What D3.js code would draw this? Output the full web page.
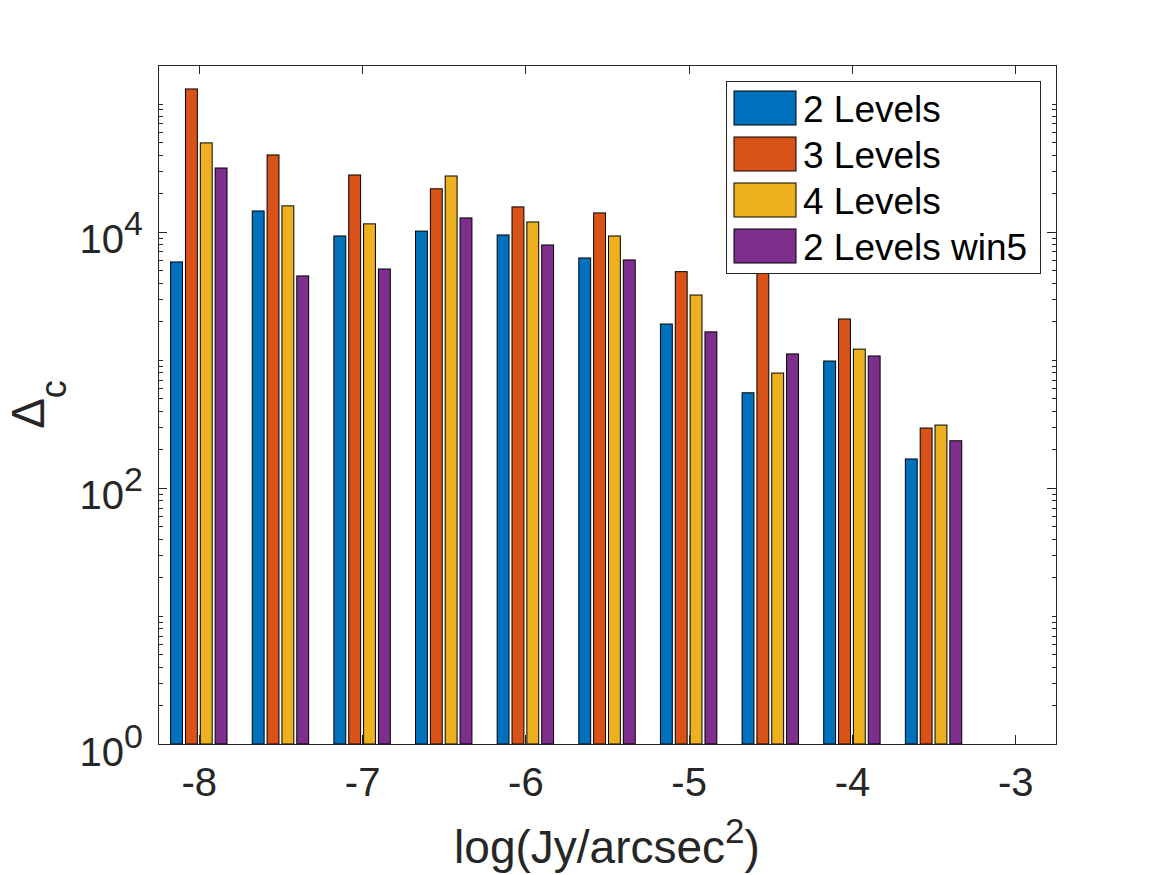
<!DOCTYPE html>
<html>
<head>
<meta charset="utf-8">
<style>
  body { margin: 0; background: #fff; }
  svg { font-family: Helvetica, Arial, "Liberation Sans", sans-serif; }
  .tick-label { font-size: 40px; fill: #262626; }
  .axis-label { font-size: 46px; fill: #262626; }
  .legend-text { font-size: 37px; fill: #000; }
</style>
</head>
<body>
<div id="chart"></div>
<script src="https://d3js.org/d3.v7.min.js"></script>
<script>
  // Bin centres, log(Jy/arcsec^2)
  const categories = [-8, -7.5, -7, -6.5, -6, -5.5, -5, -4.5, -4, -3.5];
  const seriesNames = ['2 Levels', '3 Levels', '4 Levels', '2 Levels win5'];
  const levels2 = [5800, 14500, 9250, 10100, 9420, 6230, 1900, 552, 977, 168];
  const levels3 = [130000, 39700, 27700, 21600, 15600, 14000, 4870, 6500, 2080, 293];
  const levels4 = [49300, 15900, 11500, 27200, 11900, 9250, 3200, 787, 1210, 309];
  const levels2win5 = [31400, 4510, 5110, 12800, 7870, 6010, 1650, 1110, 1070, 233];
  const xTicks = [-8, -7, -6, -5, -4, -3];
  const yTicks = [1, 100, 10000];

  const colors = ['#0072BD', '#D95319', '#EDB120', '#7E2F8E'];
  const seriesValues = [levels2, levels3, levels4, levels2win5];

  const width = 1167;
  const height = 875;
  const margin = { top: 65, right: 111, bottom: 131, left: 158 };

  const svg = d3.select('#chart')
    .append('svg')
    .attr('width', width)
    .attr('height', height);

  const xScale = d3.scaleLinear()
    .domain([-8.25, -2.75])
    .range([margin.left, width - margin.right]);

  const yScale = d3.scaleLog()
    .domain([1, 2e5])
    .range([height - margin.bottom, margin.top]);

  // matlab style grouped bars
  const nSeries = seriesValues.length;
  const spacing = 0.5;
  const groupWidth = Math.min(0.8, nSeries / (nSeries + 1.5)) * spacing;
  const slot = groupWidth / nSeries;
  const barW = slot * 0.8;

  seriesValues.forEach((vals, i) => {
    const off = -groupWidth / 2 + slot * (i + 0.5);
    svg.append('g')
      .selectAll('rect')
      .data(vals)
      .join('rect')
      .attr('x', (d, j) => xScale(categories[j] + off - barW / 2))
      .attr('width', xScale(barW) - xScale(0))
      .attr('y', d => yScale(d))
      .attr('height', d => yScale(1) - yScale(d))
      .attr('fill', colors[i])
      .attr('stroke', '#000')
      .attr('stroke-width', 1);
  });

  // minor ticks for the log axis
  const minorTicks = [];
  for (let e = 0; e <= 5; e++) {
    for (let k = 1; k <= 9; k++) {
      const v = k * Math.pow(10, e);
      if (v <= 2e5 && !yTicks.includes(v)) minorTicks.push(v);
    }
  }

  const x0 = height - margin.bottom;
  const y0 = margin.left;
  const x1 = width - margin.right;

  // x axis (bottom, labels) and top (ticks only)
  const gx = svg.append('g')
    .attr('transform', `translate(0, ${x0})`)
    .call(d3.axisBottom(xScale).tickValues(xTicks).tickSizeInner(-9).tickSizeOuter(0)
      .tickPadding(24).tickFormat(d => String(d)));
  gx.selectAll('text').attr('class', 'tick-label').attr('font-size', null).attr('font-family', null);

  svg.append('g')
    .attr('transform', `translate(0, ${margin.top})`)
    .call(d3.axisTop(xScale).tickValues(xTicks).tickSizeInner(-9).tickSizeOuter(0).tickFormat(''));

  // y axis left + right, major and minor
  [[d3.axisLeft, y0, 1], [d3.axisRight, x1, 0]].forEach(([axisFn, pos, labels]) => {
    svg.append('g')
      .attr('transform', `translate(${pos}, 0)`)
      .call(axisFn(yScale).tickValues(minorTicks).tickSizeInner(-4.5).tickSizeOuter(0).tickFormat(''));
    const g = svg.append('g')
      .attr('transform', `translate(${pos}, 0)`)
      .call(axisFn(yScale).tickValues(yTicks).tickSizeInner(-9).tickSizeOuter(0).tickFormat(''));
    if (labels) {
      g.selectAll('.tick').each(function (d) {
        const t = d3.select(this).select('text')
          .attr('class', 'tick-label')
          .attr('font-size', null).attr('font-family', null)
          .attr('x', -15).attr('dy', null).attr('y', 21)
          .attr('text-anchor', 'end');
        t.append('tspan').text('10');
        t.append('tspan').attr('dy', -18).attr('font-size', 34).text(Math.round(Math.log10(d)));
      });
    }
  });

  svg.selectAll('.domain').remove();
  svg.selectAll('.tick line').attr('stroke', '#262626').attr('shape-rendering', 'crispEdges');

  // axes box
  svg.append('rect')
    .attr('x', y0)
    .attr('y', margin.top)
    .attr('width', x1 - y0)
    .attr('height', x0 - margin.top)
    .attr('fill', 'none')
    .attr('stroke', '#262626')
    .attr('stroke-width', 1)
    .attr('shape-rendering', 'crispEdges');

  // axis labels
  const xl = svg.append('text')
    .attr('class', 'axis-label')
    .attr('x', (y0 + x1) / 2)
    .attr('y', 863)
    .attr('text-anchor', 'middle');
  xl.append('tspan').text('log(Jy/arcsec');
  xl.append('tspan').attr('dy', -20).attr('font-size', 35).text('2');
  xl.append('tspan').attr('dy', 20).text(')');

  const yl = svg.append('text')
    .attr('class', 'axis-label')
    .attr('transform', `translate(44, ${(margin.top + x0) / 2}) rotate(-90)`)
    .attr('text-anchor', 'middle');
  yl.append('tspan').text('\u0394');
  yl.append('tspan').attr('dy', 22).attr('font-size', 36).text('c');

  // legend
  const legend = svg.append('g').attr('transform', 'translate(726, 81)');
  legend.append('rect')
    .attr('x', 0.5).attr('y', 0.5)
    .attr('width', 314).attr('height', 192)
    .attr('fill', '#fff')
    .attr('stroke', '#262626')
    .attr('stroke-width', 1);
  seriesNames.forEach((name, i) => {
    legend.append('rect')
      .attr('x', 8).attr('y', 10 + i * 46)
      .attr('width', 62).attr('height', 34)
      .attr('fill', colors[i])
      .attr('stroke', '#000')
      .attr('stroke-width', 1);
    legend.append('text')
      .attr('class', 'legend-text')
      .attr('x', 77)
      .attr('y', 10 + i * 46 + 17 + 14)
      .text(name);
  });
</script>
</body>
</html>
